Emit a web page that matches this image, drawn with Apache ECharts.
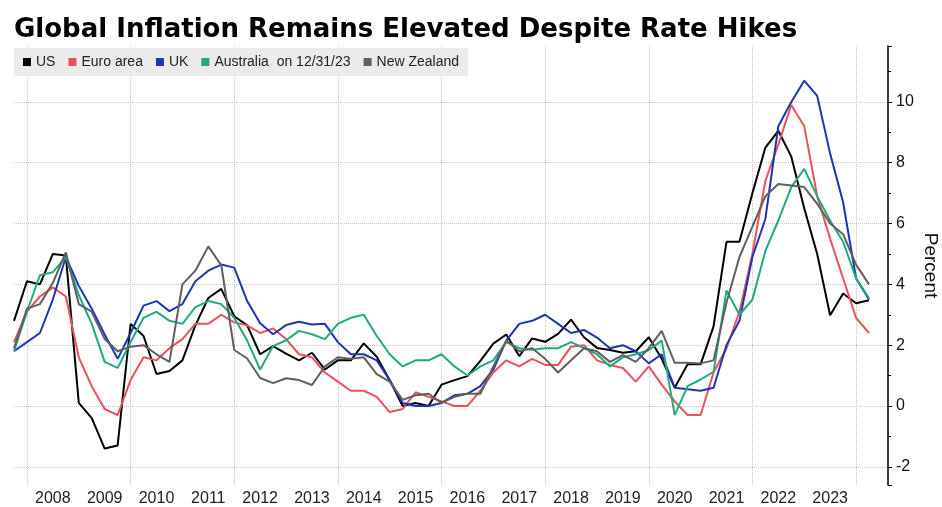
<!DOCTYPE html>
<html>
<head>
	<meta charset="utf-8" />
	<title>Global Inflation</title>
	<script src="https://cdn.jsdelivr.net/npm/echarts@6/dist/echarts.min.js"></script>
	<style>
		html, body { margin: 0; padding: 0; background: #fff; }
		#chart { width: 942px; height: 507px; }
	</style>
</head>
<body>
<div id="chart"></div>
<script>
	// quarter-end months, Sep 2007 .. Mar 2024
	var quarters = [];
	for (var y = 2007; y <= 2024; y++) {
		['03', '06', '09', '12'].forEach(function (m) {
			var q = y + '-' + m;
			if (q >= '2007-09' && q <= '2024-03') quarters.push(q);
		});
	}

	var us = [2.8, 4.1, 4.0, 5.0, 4.95, 0.1, -0.4, -1.4, -1.3, 2.7,
		2.3, 1.05, 1.15, 1.5, 2.65, 3.55, 3.85, 2.95, 2.65, 1.7,
		1.97, 1.72, 1.5, 1.75, 1.2, 1.5, 1.5, 2.06, 1.62, 0.85,
		0.0, 0.1, 0.0, 0.7, 0.85, 0.98, 1.48, 2.05, 2.35, 1.64,
		2.22, 2.11, 2.37, 2.84, 2.26, 1.91, 1.84, 1.75, 1.8, 2.26,
		1.55, 0.6, 1.37, 1.37, 2.62, 5.4, 5.4, 7.0, 8.5, 9.05,
		8.2, 6.5, 5.0, 2.98, 3.7, 3.38, 3.48];

	var euro = [2.1, 3.1, 3.6, 3.9, 3.6, 1.6, 0.65, -0.1, -0.3, 0.85,
		1.6, 1.5, 1.9, 2.2, 2.7, 2.7, 3.0, 2.75, 2.65, 2.4,
		2.55, 2.2, 1.7, 1.6, 1.1, 0.8, 0.5, 0.5, 0.3, -0.2,
		-0.1, 0.45, 0.3, 0.15, 0.0, 0.0, 0.5, 1.1, 1.5, 1.3,
		1.55, 1.35, 1.35, 1.95, 2.0, 1.5, 1.35, 1.25, 0.8, 1.3,
		0.7, 0.15, -0.3, -0.3, 1.1, 1.9, 3.1, 5.0, 7.4, 8.6,
		9.9, 9.2, 6.9, 5.5, 4.2, 2.9, 2.4];

	var uk = [1.8, 2.1, 2.4, 3.5, 4.9, 3.95, 3.2, 2.35, 1.55, 2.4,
		3.3, 3.45, 3.12, 3.35, 4.1, 4.45, 4.65, 4.55, 3.45, 2.72,
		2.36, 2.66, 2.77, 2.68, 2.7, 2.1, 1.7, 1.7, 1.5, 0.85,
		0.1, 0.0, 0.0, 0.1, 0.35, 0.4, 0.65, 1.2, 2.15, 2.7,
		2.8, 3.0, 2.7, 2.4, 2.5, 2.25, 1.9, 2.0, 1.8, 1.4,
		1.7, 0.6, 0.55, 0.5, 0.6, 2.0, 2.8, 4.9, 6.15, 9.2,
		10.0, 10.7, 10.2, 8.3, 6.7, 4.2, 3.5];

	var australia = [1.8, 3.1, 4.3, 4.4, 4.9, 3.65, 2.7, 1.45, 1.25, 2.1,
		2.9, 3.1, 2.8, 2.7, 3.25, 3.45, 3.35, 2.9, 2.15, 1.2,
		1.97, 2.16, 2.47, 2.36, 2.2, 2.7, 2.9, 3.0, 2.3, 1.7,
		1.3, 1.5, 1.5, 1.7, 1.3, 1.0, 1.3, 1.5, 2.1, 1.9,
		1.85, 1.9, 1.9, 2.1, 1.9, 1.7, 1.3, 1.6, 1.7, 1.83,
		2.15, -0.3, 0.65, 0.87, 1.12, 3.8, 3.0, 3.5, 5.1, 6.1,
		7.2, 7.8, 6.9, 6.1, 5.4, 4.2, 3.55];

	var nz = [1.9, 3.2, 3.35, 4.05, 5.05, 3.35, 3.1, 2.2, 1.8, 1.95,
		2.0, 1.7, 1.45, 4.0, 4.45, 5.25, 4.63, 1.84, 1.56, 0.92,
		0.75, 0.91, 0.85, 0.69, 1.3, 1.6, 1.55, 1.6, 1.05, 0.8,
		0.2, 0.35, 0.4, 0.1, 0.3, 0.4, 0.4, 1.3, 2.15, 1.8,
		1.9, 1.55, 1.1, 1.5, 1.9, 1.8, 1.45, 1.67, 1.45, 1.9,
		2.47, 1.42, 1.42, 1.4, 1.5, 3.4, 4.9, 5.9, 6.9, 7.3,
		7.25, 7.2, 6.65, 6.0, 5.65, 4.65, 4.0];

	var names = ['US', 'Euro area', 'UK', 'Australia', 'New Zealand'];
	var colors = ['#000000', '#e8525a', '#1c35b0', '#1faa82', '#5f5f5f'];
	var values = [us, euro, uk, australia, nz];

	var yMin = -2.6, yMax = 11.84;
	var gridLine = { type: 'dotted', color: '#c4c4c4', width: 1 };

	var chart = echarts.init(document.getElementById('chart'));

	var option = {
		animation: false,
		backgroundColor: '#fff',
		color: colors,
		title: {
			text: 'Global Inflation Remains Elevated Despite Rate Hikes',
			left: 14,
			top: 17,
			padding: 0,
			textStyle: {
				fontFamily: 'DejaVu Sans',
				fontWeight: 'bold',
				fontSize: 26,
				color: '#000'
			}
		},
		legend: {
			data: names,
			left: 14,
			top: 48,
			padding: [7, 9, 7, 9],
			backgroundColor: '#ebebeb',
			icon: 'rect',
			itemWidth: 8,
			itemHeight: 8,
			itemGap: 13,
			formatter: function (name) {
				return name === 'Australia' ? 'Australia  on 12/31/23' : name;
			},
			textStyle: { fontFamily: 'Liberation Sans', fontSize: 14, color: '#222' }
		},
		// grid 0 holds the lines, grid 1 the right axis (wider, so the rules run up to it)
		grid: [
			{ left: 14, right: 73, top: 46, bottom: 22, outerBoundsMode: 'none' },
			{ left: 14, right: 54, top: 46, bottom: 22, outerBoundsMode: 'none' }
		],
		xAxis: [
			{
				gridIndex: 0,
				type: 'category',
				data: quarters,
				boundaryGap: false,
				axisLine: { show: false },
				axisTick: { show: false },
				axisLabel: {
					interval: function (i) { return i % 4 === 3; },
					formatter: function (v) { return v.slice(0, 4); },
					margin: 6,
					fontFamily: 'Liberation Sans',
					fontSize: 16,
					color: '#222'
				},
				splitLine: {
					show: true,
					interval: function (i) { return i % 8 === 1; },
					lineStyle: gridLine
				}
			},
			{ gridIndex: 1, type: 'value', show: false }
		],
		yAxis: [
			{ gridIndex: 0, type: 'value', min: yMin, max: yMax, show: false },
			{
				gridIndex: 1,
				type: 'value',
				position: 'right',
				min: yMin,
				max: yMax,
				splitNumber: 7,
				name: 'Percent',
				nameLocation: 'middle',
				nameRotate: -90,
				nameGap: 33,
				nameMoveOverlap: false,
				nameTextStyle: { fontFamily: 'Liberation Sans', fontSize: 19, color: '#111' },
				axisLine: { show: true, onZero: false, lineStyle: { color: '#000', width: 1.5 } },
				axisTick: { show: true, length: 4, lineStyle: { color: '#000' } },
				minorTick: { show: true, splitNumber: 2, length: 3, lineStyle: { color: '#000' } },
				axisLabel: {
					margin: 8,
					showMinLabel: false,
					showMaxLabel: false,
					fontFamily: 'Liberation Sans',
					fontSize: 16,
					color: '#111'
				},
				splitLine: { show: true, showMinLine: false, showMaxLine: false, lineStyle: gridLine }
			}
		],
		series: names.map(function (n, i) {
			return {
				name: n,
				type: 'line',
				xAxisIndex: 0,
				yAxisIndex: 0,
				data: values[i],
				symbol: 'none',
				lineStyle: { width: 2, color: colors[i] }
			};
		})
	};

	chart.setOption(option);
</script>
</body>
</html>
